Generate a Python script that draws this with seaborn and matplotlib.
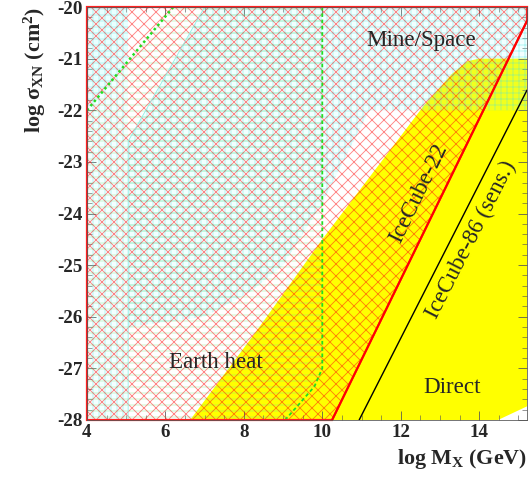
import matplotlib
matplotlib.use("Agg")
import matplotlib.pyplot as plt
from matplotlib.ticker import MultipleLocator
import seaborn as sns

# ---------------- data ----------------
# IceCube-22 limit line (red) and IceCube-86 sensitivity (black)
ic22_x = [10.25, 15.22]
ic22_y = [-28.0, -20.27]
ic86_x = [10.94, 15.22]
ic86_y = [-28.0, -21.61]

# Earth heat boundaries (green)
eh_dot_x = [4.0, 6.2]
eh_dot_y = [-22.0, -20.0]
eh_dash_x = [10.0, 10.0, 9.8, 9.4, 9.05]
eh_dash_y = [-20.0, -27.0, -27.35, -27.7, -28.0]

# Excluded region polygons
mine_x = [4.0, 10.25, 15.22, 15.22, 4.0]          # left of IceCube-22
mine_y = [-28.0, -28.0, -20.27, -20.0, -20.0]
direct_x = [6.63, 8.3, 10.0, 11.5, 12.6, 13.3, 13.7, 14.0, 15.6, 15.6, 14.48]
direct_y = [-28.0, -26.3, -24.5, -23.0, -21.9, -21.3, -21.05, -21.0, -21.0, -27.6, -28.0]
space_x = [7.0, 15.6, 15.6, 11.2, 10.0, 9.0, 8.2, 7.0, 5.05, 5.05]
space_y = [-20.0, -20.0, -22.0, -22.0, -23.8, -25.0, -25.5, -26.0, -26.2, -22.6]
strip_x = [4.0, 5.05, 5.05, 4.0]
strip_y = [-20.0, -20.0, -28.0, -28.0]
corner_x = [4.0, 5.05, 5.05, 4.0]
corner_y = [-20.0, -20.0, -21.05, -22.0]
heat_x = [4.0, 6.2, 10.0, 10.0, 9.8, 9.4, 9.05, 4.0]
heat_y = [-22.0, -20.0, -20.0, -27.0, -27.35, -27.7, -28.0, -28.0]

x_ticks = [4, 6, 8, 10, 12, 14]
y_ticks = [-28, -27, -26, -25, -24, -23, -22, -21, -20]

# ---------------- style ----------------
sns.set_style("ticks")
plt.rcParams['font.family'] = ['Liberation Serif', 'DejaVu Serif']
plt.rcParams['mathtext.fontset'] = 'custom'
plt.rcParams['mathtext.rm'] = 'Liberation Serif:bold'
plt.rcParams['mathtext.it'] = 'Liberation Serif:bold'
plt.rcParams['mathtext.bf'] = 'Liberation Serif:bold'
plt.rcParams['hatch.linewidth'] = 0.9

DPI = 72
fig = plt.figure(figsize=(532 / DPI, 477 / DPI), dpi=DPI)
ax = fig.add_axes([0.1635, 0.1195, 0.8271, 0.8658])

CYAN = (0.3, 0.9, 0.88, 0.42)
# regions
ax.fill(direct_x, direct_y, facecolor='#ffff00', edgecolor='none', lw=0, zorder=0.5)
ax.fill(space_x, space_y, facecolor=(0.6, 1, 1, 0.12), edgecolor=CYAN,
        lw=0, hatch='++', zorder=1.0)
ax.fill(strip_x, strip_y, facecolor=(0.6, 1, 1, 0.10), edgecolor=CYAN,
        lw=0, hatch='||', zorder=1.0)
ax.fill(corner_x, corner_y, facecolor=(0.6, 1, 1, 0.10), edgecolor=CYAN,
        lw=0, hatch='--', zorder=1.0)
ax.fill(heat_x, heat_y, facecolor='none', edgecolor=(0.45, 0.92, 0.5, 0.42),
        lw=0, hatch='--', zorder=1.2)
ax.fill(mine_x, mine_y, facecolor='none', edgecolor=(1, 0.05, 0.05, 0.5),
        lw=0, hatch='xx', zorder=1.5)
ax.fill(mine_x, mine_y, facecolor='none', edgecolor='#ff2020', lw=2.2, zorder=2.5,
        clip_on=False)

# boundary lines
sns.lineplot(x=[space_x[0], space_x[-1], space_x[-2]], y=[space_y[0], space_y[-1], -28.0],
             sort=False, estimator=None, color='#8feee6', lw=0.8, ax=ax, zorder=1.7)
sns.lineplot(x=eh_dot_x, y=eh_dot_y, sort=False, estimator=None, color='#22dd22',
             lw=2.5, ax=ax, zorder=2, linestyle=(0, (1, 1.2)))
sns.lineplot(x=eh_dash_x, y=eh_dash_y, sort=False, estimator=None, color='#22dd22',
             lw=1.8, ax=ax, zorder=2, linestyle=(0, (2, 1.5)))
sns.lineplot(x=ic22_x, y=ic22_y, sort=False, estimator=None, color='#ff0000', lw=2.0,
             ax=ax, zorder=3)
sns.lineplot(x=ic86_x, y=ic86_y, sort=False, estimator=None, color='black', lw=1.4,
             ax=ax, zorder=3)

# labels in plot
ax.text(12.52, -20.64, 'Mine/Space', fontsize=23, ha='center', va='center', zorder=5)
ax.text(7.29, -26.88, 'Earth heat', fontsize=23, ha='center', va='center', zorder=5)
ax.text(13.31, -27.38, 'Direct', fontsize=23, ha='center', va='center', zorder=5)
ax.text(12.45, -23.6, 'IceCube-22', fontsize=23, ha='center', va='center',
        rotation=64, zorder=5)
ax.text(13.8, -24.5, 'IceCube-86 (sens.)', fontsize=23, ha='center', va='center',
        rotation=63, zorder=5)

# axes
ax.set_xlim(4, 15.22)
ax.set_ylim(-28, -20)
ax.set_xticks(x_ticks)
ax.set_yticks(y_ticks)
ax.set_xticklabels([str(t) for t in x_ticks])
ax.set_yticklabels([str(t) for t in y_ticks])
ax.xaxis.set_minor_locator(MultipleLocator(0.5))
ax.yaxis.set_minor_locator(MultipleLocator(0.2))
ax.tick_params(which='both', direction='in', top=True, right=True, color='#555555')
ax.tick_params(which='major', length=9, width=0.8, labelsize=19, pad=4)
ax.tick_params(which='minor', length=5, width=0.6)
for lab in ax.get_xticklabels() + ax.get_yticklabels():
    lab.set_fontweight('bold')
for sp in ax.spines.values():
    sp.set_linewidth(0.8)
    sp.set_color('#555555')

ax.set_xlabel(r'log M$_\mathrm{X}$ (GeV)', fontsize=22, fontweight='bold', loc='right',
              labelpad=6)
ax.set_ylabel(r'log σ$_\mathrm{XN}$ (cm$^2$)', fontsize=22, fontweight='bold', loc='top',
              labelpad=9)

fig.savefig('out.png', dpi=DPI)
